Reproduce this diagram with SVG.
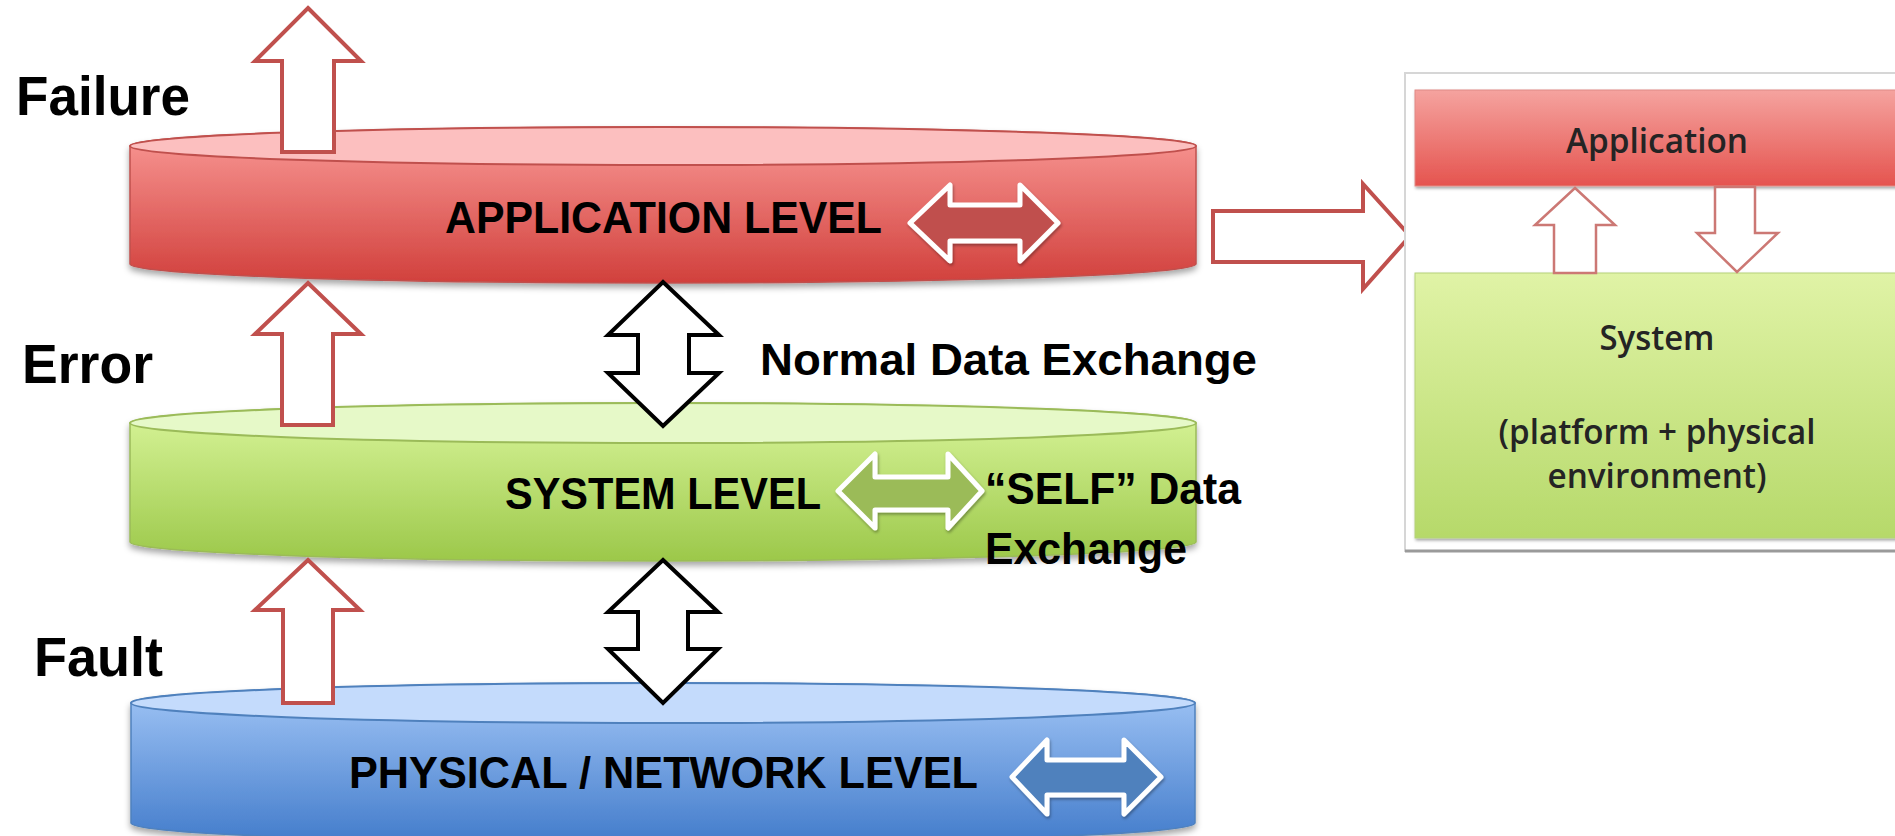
<svg xmlns="http://www.w3.org/2000/svg" width="1895" height="836" viewBox="0 0 1895 836">
  <style>
    .lbl { font-family: "Liberation Sans", Arial, sans-serif; font-weight: bold; fill: #000; }
    .big { font-size: 56px; }
    .mid { font-size: 45px; }
    .pnl { font-family: "Open Sans", "Liberation Sans", sans-serif; font-size: 35px; font-weight: 600; fill: #242424; text-anchor: middle; }
    .redArrow { fill: #fff; stroke: #c0504d; stroke-width: 4; stroke-linejoin: miter; }
    .blkArrow { fill: #fff; stroke: #000; stroke-width: 4; stroke-linejoin: miter; }
    .inArrow { stroke: #fff; stroke-width: 5; stroke-linejoin: round; }
    .pArrow { fill: #fff; stroke: #cc7874; stroke-width: 2.5; }
  </style>
  <defs>
    <linearGradient id="gRed" x1="0" y1="0" x2="0" y2="1">
      <stop offset="0" stop-color="#fa9a97"/>
      <stop offset="1" stop-color="#d1403c"/>
    </linearGradient>
    <linearGradient id="gGreen" x1="0" y1="0" x2="0" y2="1">
      <stop offset="0" stop-color="#daf69c"/>
      <stop offset="1" stop-color="#9cc84a"/>
    </linearGradient>
    <linearGradient id="gBlue" x1="0" y1="0" x2="0" y2="1">
      <stop offset="0" stop-color="#a3c7f7"/>
      <stop offset="1" stop-color="#437ccb"/>
    </linearGradient>
    <linearGradient id="gPanelRed" x1="0" y1="0" x2="0" y2="1">
      <stop offset="0" stop-color="#f5a39f"/>
      <stop offset="1" stop-color="#e5544f"/>
    </linearGradient>
    <linearGradient id="gPanelGreen" x1="0" y1="0" x2="0" y2="1">
      <stop offset="0" stop-color="#e0f3a6"/>
      <stop offset="1" stop-color="#b6d96a"/>
    </linearGradient>
    <filter id="shadow" x="-5%" y="-20%" width="110%" height="150%">
      <feDropShadow dx="0" dy="4" stdDeviation="3" flood-color="#000" flood-opacity="0.35"/>
    </filter>
    <filter id="soft" x="-10%" y="-20%" width="120%" height="150%">
      <feDropShadow dx="1" dy="2" stdDeviation="1.5" flood-color="#000" flood-opacity="0.35"/>
    </filter>
  </defs>

  <rect width="1895" height="836" fill="#fff"/>

  <!-- application cylinder -->
  <g id="app-level">
    <path filter="url(#shadow)" d="M130,146 V264 A533,19 0 0 0 1196,264 V146 A533,19 0 0 0 130,146 Z" fill="url(#gRed)" stroke="#c0504d" stroke-width="1.5"/>
    <ellipse cx="663" cy="146" rx="533" ry="19" fill="#fcbfbf" stroke="#c0504d" stroke-width="2"/>
    <text class="lbl mid" x="445" y="233" textLength="437" lengthAdjust="spacingAndGlyphs">APPLICATION LEVEL</text>
    <path class="inArrow" filter="url(#soft)" fill="#c0504d" d="M910,223 L950,185 V205 H1020 V185 L1058,223 L1020,261 V241 H950 V261 Z"/>
  </g>

  <!-- system cylinder -->
  <g id="system-level">
    <path filter="url(#shadow)" d="M130,423 V542 A533,19 0 0 0 1196,542 V423 A533,20 0 0 0 130,423 Z" fill="url(#gGreen)" stroke="#9bbb59" stroke-width="1.5"/>
    <ellipse cx="663" cy="423" rx="533" ry="20" fill="#e6f9c8" stroke="#9bbb59" stroke-width="2"/>
    <text class="lbl mid" x="505" y="509" textLength="316" lengthAdjust="spacingAndGlyphs">SYSTEM LEVEL</text>
    <path class="inArrow" filter="url(#soft)" fill="#9bbb59" d="M838,491 L875,454 V477 H948 V454 L982,491 L948,528 V510 H875 V528 Z"/>
  </g>

  <!-- physical / network cylinder -->
  <g id="physical-level">
    <path filter="url(#shadow)" d="M131,703 V823 A532,20 0 0 0 1195,823 V703 A532,20 0 0 0 131,703 Z" fill="url(#gBlue)" stroke="#4f81bd" stroke-width="1.5"/>
    <ellipse cx="663" cy="703" rx="532" ry="20" fill="#c4dbfc" stroke="#4f81bd" stroke-width="2"/>
    <text class="lbl mid" x="349" y="788" textLength="629" lengthAdjust="spacingAndGlyphs">PHYSICAL / NETWORK LEVEL</text>
    <path class="inArrow" filter="url(#soft)" fill="#4f81bd" d="M1012,777 L1047,740 V760 H1124 V740 L1161,777 L1124,814 V795 H1047 V814 Z"/>
  </g>

  <!-- side labels -->
  <g id="labels">
    <text class="lbl big" x="16" y="115" textLength="174" lengthAdjust="spacingAndGlyphs">Failure</text>
    <text class="lbl big" x="22" y="383" textLength="131" lengthAdjust="spacingAndGlyphs">Error</text>
    <text class="lbl big" x="34" y="676" textLength="129" lengthAdjust="spacingAndGlyphs">Fault</text>
    <text class="lbl mid" x="760" y="375" textLength="497" lengthAdjust="spacingAndGlyphs">Normal Data Exchange</text>
    <text class="lbl mid" x="985" y="504" textLength="256" lengthAdjust="spacingAndGlyphs">“SELF” Data</text>
    <text class="lbl mid" x="985" y="564" textLength="202" lengthAdjust="spacingAndGlyphs">Exchange</text>
  </g>

  <!-- connectors -->
  <g id="connectors">
    <polygon class="redArrow" points="308,8 361,61 334,61 334,152 282,152 282,61 255,61"/>
    <polygon class="redArrow" points="308,283 361,334 333,334 333,425 282,425 282,334 255,334"/>
    <polygon class="redArrow" points="308,560 360,610 333,610 333,703 283,703 283,610 255,610"/>
    <polygon class="blkArrow" points="663,282 719,335 689,335 689,373 719,373 663,426 608,373 638,373 638,335 608,335"/>
    <polygon class="blkArrow" points="663,560 718,612 688,612 688,649 718,649 663,703 608,649 638,649 638,612 608,612"/>
    <polygon class="redArrow" points="1213,211 1363,211 1363,184 1410,236 1363,289 1363,262 1213,262"/>
  </g>

  <!-- application / system panel -->
  <g id="panel">
    <rect x="1405" y="73" width="495" height="478" fill="#fff" stroke="#d6d6d6" stroke-width="2"/>
    <line x1="1405" y1="551" x2="1895" y2="551" stroke="#9a9a9a" stroke-width="3"/>
  </g>
  <g id="panel-application">
    <rect x="1415" y="90" width="485" height="96" fill="url(#gPanelRed)" stroke="#e08a86" stroke-width="1" filter="url(#soft)"/>
    <text class="pnl" x="1657" y="153" textLength="182" lengthAdjust="spacingAndGlyphs">Application</text>
  </g>
  <g id="panel-system">
    <rect x="1415" y="273" width="485" height="265" fill="url(#gPanelGreen)" stroke="#b5d27a" stroke-width="1" filter="url(#soft)"/>
    <text class="pnl" x="1657" y="350" textLength="115" lengthAdjust="spacingAndGlyphs">System</text>
    <text class="pnl" x="1657" y="444" textLength="317" lengthAdjust="spacingAndGlyphs">(platform + physical</text>
    <text class="pnl" x="1657" y="488" textLength="219" lengthAdjust="spacingAndGlyphs">environment)</text>
  </g>
  <g id="panel-connectors">
    <polygon class="pArrow" points="1575,188 1615,225 1596,225 1596,273 1554,273 1554,225 1535,225"/>
    <polygon class="pArrow" points="1715,187 1755,187 1755,233 1778,233 1737,272 1697,233 1715,233"/>
  </g>
</svg>
